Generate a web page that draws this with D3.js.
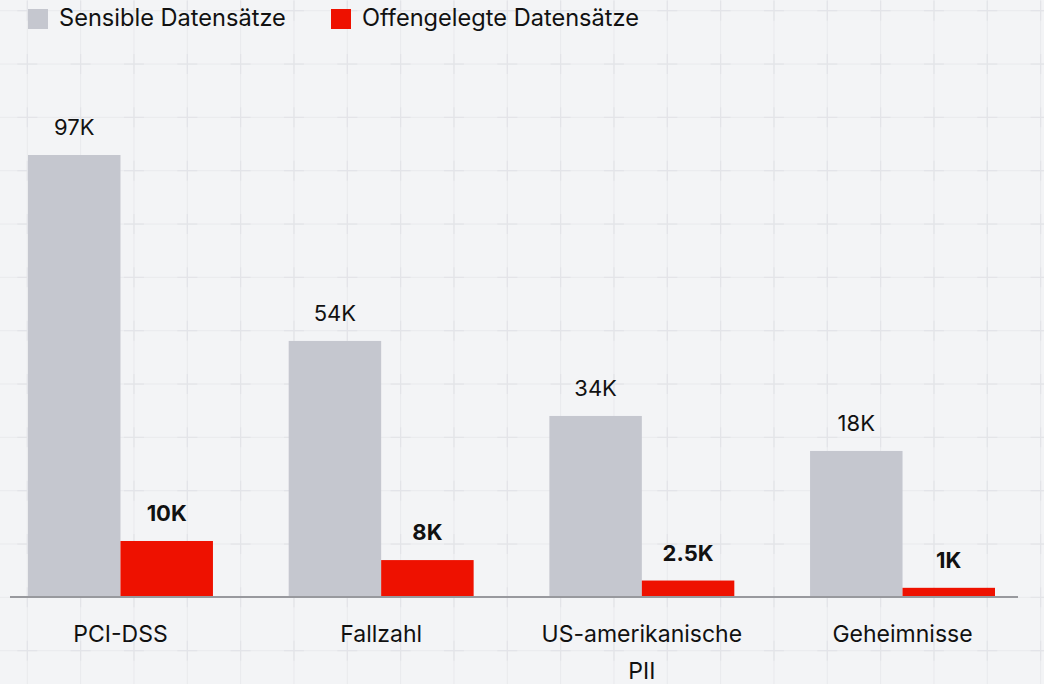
<!DOCTYPE html>
<html>
<head>
<meta charset="utf-8">
<script src="https://cdn.jsdelivr.net/npm/d3@7"></script>
<style>
  html, body { margin: 0; padding: 0; background: #f3f4f6; }
  svg { display: block; font-family: Inter, "Noto Sans", sans-serif; }
</style>
</head>
<body>
<div id="chart"></div>
<script>
// categories and series
const categories = ["PCI-DSS", "Fallzahl", "US-amerikanische PII", "Geheimnisse"];
const seriesNames = ["Sensible Datensätze", "Offengelegte Datensätze"];
// bar heights (relative units, tallest = 97)
const sensibleValues = [97, 56.1, 39.6, 31.9];
const exposedValues = [12.1, 7.9, 3.4, 1.8];
// value labels as printed
const sensibleLabels = ["97K", "54K", "34K", "18K"];
const exposedLabels = ["10K", "8K", "2.5K", "1K"];

const colors = ["#c5c7cf", "#ee1100"];

const width = 1044;
const height = 684;
const baseY = 596;

const data = categories.map((c, i) => ({
  cat: c,
  bars: [
    { key: 0, value: sensibleValues[i], label: sensibleLabels[i] },
    { key: 1, value: exposedValues[i], label: exposedLabels[i] }
  ]
}));

const svg = d3.select("#chart").append("svg")
  .attr("width", width)
  .attr("height", height);

// background grid
const grid = svg.append("g");
const gridStep = 53.333;
const gx = d3.range(27.3, width, gridStep);
const gy = d3.range(10.7, height, gridStep);
grid.selectAll("line.v").data(gx).enter().append("line")
  .attr("x1", d => d).attr("x2", d => d)
  .attr("y1", 0).attr("y2", height)
  .attr("stroke", "#e9eaed").attr("stroke-width", 1);
grid.selectAll("line.h").data(gy).enter().append("line")
  .attr("y1", d => d).attr("y2", d => d)
  .attr("x1", 0).attr("x2", width)
  .attr("stroke", "#e9eaed").attr("stroke-width", 1);
// little darker crosses at intersections
const crosses = [];
gx.forEach(x => gy.forEach(y => crosses.push([x, y])));
const cross = grid.selectAll("g.cross").data(crosses).enter().append("g")
  .attr("transform", d => `translate(${d[0]},${d[1]})`);
cross.append("line").attr("x1", -10).attr("x2", 10).attr("y1", 0).attr("y2", 0)
  .attr("stroke", "#e3e4e8").attr("stroke-width", 1.2);
cross.append("line").attr("y1", -10).attr("y2", 10).attr("x1", 0).attr("x2", 0)
  .attr("stroke", "#e3e4e8").attr("stroke-width", 1.2);

// scales
const x0 = d3.scaleBand()
  .domain(categories)
  .range([28, 995])
  .paddingInner(0.2905)
  .paddingOuter(0);

const x1 = d3.scaleBand()
  .domain([0, 1])
  .range([0, x0.bandwidth()]);

const y = d3.scaleLinear()
  .domain([0, 97])
  .range([baseY, 155]);

// bars
const groups = svg.append("g").selectAll("g.group")
  .data(data).enter().append("g")
  .attr("class", "group")
  .attr("transform", d => `translate(${x0(d.cat)},0)`);

groups.selectAll("rect")
  .data(d => d.bars).enter().append("rect")
  .attr("x", d => x1(d.key))
  .attr("width", x1.bandwidth())
  .attr("y", d => y(d.value))
  .attr("height", d => baseY - y(d.value))
  .attr("fill", d => colors[d.key]);

groups.selectAll("text.val")
  .data(d => d.bars).enter().append("text")
  .attr("class", "val")
  .attr("x", d => x1(d.key) + x1.bandwidth() / 2)
  .attr("y", d => y(d.value) - 20)
  .attr("text-anchor", "middle")
  .attr("font-size", 22)
  .attr("font-weight", d => d.key === 1 ? 700 : 400)
  .attr("fill", "#111")
  .text(d => d.label);

// baseline
svg.append("line")
  .attr("x1", 10).attr("x2", 1018)
  .attr("y1", baseY + 1).attr("y2", baseY + 1)
  .attr("stroke", "#98999e")
  .attr("stroke-width", 2);

// category labels (wrapped)
const catText = svg.append("g").selectAll("text.cat")
  .data(categories).enter().append("text")
  .attr("class", "cat")
  .attr("x", d => x0(d) + x0.bandwidth() / 2)
  .attr("y", 642)
  .attr("text-anchor", "middle")
  .attr("font-size", 23)
  .attr("fill", "#111");

catText.each(function(d) {
  const t = d3.select(this);
  const words = d.split(" ");
  let line = [];
  let tspan = t.append("tspan").attr("x", t.attr("x")).attr("dy", 0);
  words.forEach(w => {
    line.push(w);
    tspan.text(line.join(" "));
    if (tspan.node().getComputedTextLength() > 220 && line.length > 1) {
      line.pop();
      tspan.text(line.join(" "));
      line = [w];
      tspan = t.append("tspan").attr("x", t.attr("x")).attr("dy", 36.5).text(w);
    }
  });
});

// legend
const legend = svg.append("g");
const legendX = [28, 331];
seriesNames.forEach((name, i) => {
  legend.append("rect")
    .attr("x", legendX[i]).attr("y", 9)
    .attr("width", 20).attr("height", 20)
    .attr("fill", colors[i]);
  legend.append("text")
    .attr("x", legendX[i] + 31)
    .attr("y", 26)
    .attr("font-size", 23.6)
    .attr("fill", "#111")
    .text(name);
});
</script>
</body>
</html>
